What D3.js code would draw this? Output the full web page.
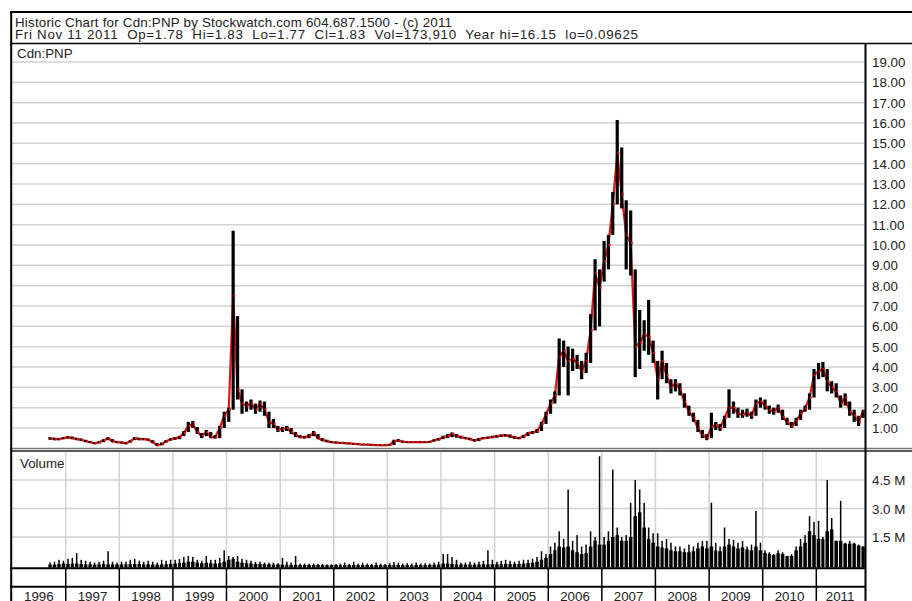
<!DOCTYPE html>
<html><head><meta charset="utf-8">
<script src="https://cdn.jsdelivr.net/npm/d3@7"></script>
<style>
html,body{margin:0;padding:0;background:#fff;}
svg{display:block;font-family:"Liberation Sans",Arial,sans-serif;}
</style></head><body>
<svg id="c" width="912" height="601"></svg>
<script>
// ---------- text ----------
const titleLine1 = "Historic Chart for Cdn:PNP by Stockwatch.com 604.687.1500 - (c) 2011";
const titleLine2 = "Fri Nov 11 2011  Op=1.78  Hi=1.83  Lo=1.77  Cl=1.83  Vol=173,910  Year hi=16.15  lo=0.09625";
const symbolLabel = "Cdn:PNP";
const volumeLabel = "Volume";

// ---------- data (monthly, from Sep 1996 to Nov 2011) ----------
const firstMonth = "1996-09";
const closePrice = [
  .50,.45,.45,.50,
  .55,.50,.45,.42,.35,.30,.25,.30,.40,.48,.35,.30,
  .28,.25,.35,.50,.45,.45,.42,.30,.15,.20,.35,.45,
  .50,.55,.75,1.10,1.20,.80,.60,.80,.55,.55,1.00,1.60,
  1.90,7.50,2.90,2.20,2.10,2.20,1.90,2.20,1.90,1.30,1.20,.90,
  .95,1.00,.80,.65,.55,.55,.60,.75,.50,.40,.35,.30,
  .28,.27,.25,.24,.22,.20,.18,.18,.17,.16,.15,.15,
  .17,.35,.38,.32,.30,.30,.30,.30,.30,.32,.40,.45,
  .55,.60,.70,.60,.55,.50,.45,.38,.45,.50,.52,.55,
  .60,.62,.65,.60,.52,.50,.60,.75,.78,.85,1.20,1.65,
  2.20,2.60,4.50,4.80,4.30,4.40,4.20,3.80,4.30,5.80,8.60,7.90,
  9.20,10.00,12.00,14.50,12.50,10.50,10.10,5.00,5.20,5.60,5.50,4.70,
  3.40,4.30,3.60,3.00,3.20,2.90,2.30,1.80,1.50,1.00,.65,.50,
  1.05,1.15,1.00,1.50,2.00,2.00,1.70,1.65,1.75,1.60,2.20,2.30,
  2.10,1.90,1.80,2.00,1.55,1.30,1.10,1.35,1.70,1.95,2.50,3.60,
  3.80,3.90,3.30,3.00,2.80,2.20,2.50,1.80,1.60,1.30,1.83
];
const highPrice = [
  .55,.52,.50,.55,
  .60,.58,.52,.48,.42,.36,.30,.35,.45,.55,.45,.36,
  .33,.30,.40,.55,.52,.50,.48,.40,.25,.28,.40,.50,
  .55,.60,.85,1.30,1.35,1.05,.75,.90,.80,.65,1.10,1.80,
  2.00,10.70,6.50,2.90,2.30,2.40,2.20,2.35,2.30,1.80,1.45,1.10,
  1.05,1.10,1.00,.80,.65,.60,.70,.85,.70,.50,.42,.36,
  .33,.31,.30,.28,.26,.24,.22,.21,.20,.19,.18,.18,
  .20,.42,.45,.38,.34,.33,.33,.33,.34,.36,.45,.50,
  .62,.70,.78,.70,.62,.56,.52,.45,.50,.55,.58,.62,
  .66,.68,.70,.68,.60,.55,.66,.80,.85,.95,1.30,1.80,
  2.40,2.80,5.40,5.30,5.00,4.90,4.60,4.30,4.70,6.60,9.30,8.80,
  10.20,10.50,12.60,16.15,14.80,12.20,11.70,8.80,6.80,6.30,7.30,5.30,
  4.30,4.80,4.20,3.40,3.40,3.20,2.70,2.10,1.75,1.40,.90,.70,
  1.75,1.30,1.20,1.60,2.90,2.30,2.00,1.90,1.95,1.80,2.40,2.50,
  2.40,2.10,2.00,2.15,1.90,1.50,1.30,1.50,1.90,2.10,2.70,3.90,
  4.20,4.25,3.90,3.30,3.20,2.60,2.70,2.30,1.90,1.60,1.90
];
const lowPrice = [
  .42,.40,.40,.45,
  .48,.45,.40,.36,.30,.26,.20,.24,.30,.40,.30,.26,
  .24,.20,.28,.40,.40,.40,.38,.25,.12,.15,.28,.38,
  .42,.45,.60,.80,1.00,.70,.50,.60,.50,.48,.50,1.00,
  1.30,1.90,2.40,1.70,1.80,1.90,1.70,1.80,1.60,1.00,1.00,.80,
  .80,.85,.70,.55,.50,.48,.50,.60,.45,.35,.30,.26,
  .24,.23,.22,.20,.19,.17,.15,.15,.14,.13,.12,.12,
  .14,.16,.32,.28,.27,.27,.27,.27,.27,.28,.33,.38,
  .45,.50,.55,.52,.48,.45,.40,.33,.35,.45,.47,.50,
  .52,.55,.58,.52,.47,.45,.50,.60,.70,.75,.85,1.20,
  1.70,2.20,2.60,4.00,2.60,3.80,3.90,3.40,3.70,4.20,5.80,6.00,
  8.20,8.80,10.50,12.00,11.80,8.80,8.50,3.50,3.90,4.80,4.60,4.20,
  2.40,3.40,3.20,2.70,2.80,2.60,2.00,1.60,1.30,.80,.50,.40,
  .50,.90,.85,1.00,1.50,1.70,1.50,1.50,1.55,1.45,1.60,2.00,
  1.90,1.70,1.65,1.75,1.40,1.15,1.00,1.10,1.40,1.80,1.90,2.50,
  3.40,3.50,2.80,2.70,2.50,2.00,2.10,1.60,1.30,1.10,1.50
];
// volume in millions of shares: typical daily level and largest daily spike per month
const volumeTypical = [
  .05,.05,.08,.10,
  .08,.10,.10,.08,.06,.06,.05,.06,.07,.06,.06,.05,
  .05,.06,.07,.08,.07,.06,.06,.05,.04,.05,.06,.08,
  .10,.12,.15,.20,.20,.15,.12,.15,.12,.10,.12,.20,
  .30,.35,.20,.15,.12,.10,.08,.08,.07,.06,.05,.05,
  .04,.04,.03,.03,.03,.03,.03,.03,.03,.02,.02,.02,
  .02,.02,.02,.02,.02,.02,.02,.02,.02,.02,.02,.02,
  .03,.03,.03,.02,.02,.02,.02,.03,.03,.03,.04,.05,
  .10,.10,.08,.06,.05,.05,.05,.04,.05,.06,.06,.07,
  .06,.07,.08,.08,.07,.08,.10,.12,.15,.20,.30,.40,
  .60,.80,1.00,.95,1.00,.80,.70,.60,.65,1.00,1.30,1.10,
  1.10,1.30,1.50,1.60,1.30,1.30,1.50,2.60,2.80,2.00,1.40,1.20,
  1.00,.95,.90,.80,.75,.75,.70,.70,.75,.90,1.00,.90,
  1.00,.80,.75,1.00,1.10,1.00,.90,.95,.85,.80,1.00,.80,
  .65,.60,.55,.65,.60,.50,.50,.80,1.00,1.20,1.80,1.60,
  1.40,1.40,1.80,1.90,1.30,1.30,1.15,1.15,1.15,1.05,1.00
];
const volumePeak = [
  .15,.20,.30,.25,
  .35,.40,.65,.30,.25,.20,.15,.20,.25,.75,.20,.15,
  .20,.20,.30,.35,.25,.20,.25,.20,.15,.30,.25,.30,
  .30,.35,.45,.50,.45,.30,.25,.50,.30,.30,.40,.80,
  .50,.45,.50,.35,.30,.25,.20,.20,.15,.15,.15,.12,
  .40,.20,.15,.50,.10,.10,.10,.10,.08,.08,.06,.06,
  .08,.10,.15,.08,.20,.10,.15,.10,.08,.15,.10,.08,
  .12,.18,.15,.10,.12,.10,.15,.10,.12,.10,.15,.20,
  .60,.60,.45,.30,.15,.15,.20,.15,.20,.25,.80,.30,
  .20,.25,.30,.25,.20,.25,.30,.30,.35,.45,.75,.60,
  1.00,1.20,1.80,1.40,4.00,1.30,1.60,1.00,1.10,1.80,1.50,5.75,
  1.50,1.80,5.05,2.00,1.50,1.60,3.30,4.50,4.00,3.30,2.00,1.70,
  1.70,1.30,1.40,1.20,1.00,1.00,.90,1.10,1.00,1.20,1.30,1.30,
  3.30,1.20,1.00,2.00,1.40,1.35,1.20,1.30,1.00,1.10,2.87,1.20,
  .80,.70,.60,.80,.70,.50,.60,1.00,1.40,1.60,2.60,2.30,
  2.35,1.50,4.50,2.50,1.30,3.40,1.20,1.30,1.20,1.10,1.00
];
const priceTicks = [1,2,3,4,5,6,7,8,9,10,11,12,13,14,15,16,17,18,19];
const volumeTicks = [1.5, 3.0, 4.5];
const yearLabels = [1996,1997,1998,1999,2000,2001,2002,2003,2004,2005,2006,2007,2008,2009,2010,2011];

// ---------- scales ----------
const svg = d3.select("#c");
const start = d3.utcParse("%Y-%m")(firstMonth);
const months = closePrice.map((_, i) => d3.utcMonth.offset(start, i));
const midOf = d => new Date((+d + +d3.utcMonth.offset(d, 1)) / 2);

const plotL = 12, plotR = 864;
const x = d3.scaleUtc()
  .domain([new Date(Date.UTC(1996,0,1)), new Date(Date.UTC(2011,10,22))])
  .range([plotL, plotR]);
const yP = d3.scaleLinear().domain([0, 20]).range([448.3, 41.7]);
const yV = d3.scaleLinear().domain([0, 4.5]).range([565.5, 480]);

const gridCol = "#d2d2d2";
const red = "#ee1111";
const font = 13.33;

// ---------- price panel ----------
svg.append("g").selectAll("line").data(priceTicks).join("line")
  .attr("x1", plotL).attr("x2", plotR)
  .attr("y1", d => yP(d)).attr("y2", d => yP(d))
  .attr("stroke", gridCol).attr("stroke-width", 1.5);

svg.append("g").selectAll("text").data(priceTicks).join("text")
  .attr("x", 872).attr("y", d => yP(d) + 5)
  .attr("font-size", font).attr("fill", "#222")
  .text(d => d3.format(".2f")(d));

// close line
svg.append("path")
  .datum(months.map((m, i) => [midOf(m), closePrice[i]]))
  .attr("fill", "none").attr("stroke", red).attr("stroke-width", 2.2)
  .attr("stroke-linejoin", "round")
  .attr("d", d3.line().x(d => x(d[0])).y(d => yP(d[1])));

// high-low bars
svg.append("g").selectAll("rect").data(months).join("rect")
  .attr("x", d => x(midOf(d)) - 1.6).attr("width", 3.2)
  .attr("y", (d, i) => yP(highPrice[i]))
  .attr("height", (d, i) => Math.max(1, yP(lowPrice[i]) - yP(highPrice[i])))
  .attr("fill", "#000");

// close ticks
svg.append("g").selectAll("rect").data(months).join("rect")
  .attr("x", d => x(midOf(d)) + 0.2).attr("width", 2)
  .attr("y", (d, i) => yP(closePrice[i]) - 1).attr("height", 2)
  .attr("fill", red);

svg.append("text").attr("x", 17).attr("y", 58).attr("font-size", font).attr("fill", "#222").text(symbolLabel);

// ---------- volume panel ----------
const yearStarts = yearLabels.slice(1).map(y => new Date(Date.UTC(y,0,1)));
svg.append("g").selectAll("line").data(yearStarts).join("line")
  .attr("x1", d => x(d)).attr("x2", d => x(d))
  .attr("y1", 452).attr("y2", 567)
  .attr("stroke", gridCol).attr("stroke-width", 1.5);
svg.append("g").selectAll("line").data(volumeTicks).join("line")
  .attr("x1", plotL).attr("x2", plotR)
  .attr("y1", d => yV(d)).attr("y2", d => yV(d))
  .attr("stroke", gridCol).attr("stroke-width", 1.5);
svg.append("g").selectAll("text").data(volumeTicks).join("text")
  .attr("x", 872).attr("y", d => yV(d) + 5)
  .attr("font-size", font).attr("fill", "#222")
  .text(d => d3.format(".1f")(d) + " M");

svg.append("g").selectAll("rect").data(months).join("rect")
  .attr("x", d => x(d) + 0.5)
  .attr("width", d => Math.max(1, x(d3.utcMonth.offset(d, 1)) - x(d) - 1))
  .attr("y", (d, i) => yV(volumeTypical[i]))
  .attr("height", (d, i) => yV(0) - yV(volumeTypical[i]) + 2)
  .attr("fill", "#000");
svg.append("g").selectAll("rect").data(months).join("rect")
  .attr("x", d => x(midOf(d)) - 0.75).attr("width", 1.5)
  .attr("y", (d, i) => yV(volumePeak[i]))
  .attr("height", (d, i) => yV(0) - yV(volumePeak[i]) + 2)
  .attr("fill", "#000");

svg.append("text").attr("x", 20).attr("y", 468).attr("font-size", font).attr("fill", "#222").text(volumeLabel);

// ---------- frame and separators ----------
const hline = (y, x1, x2, w, c) => svg.append("line").attr("x1", x1).attr("x2", x2).attr("y1", y).attr("y2", y).attr("stroke", c).attr("stroke-width", w);
hline(12, 10, 912, 2, "#000");
hline(43.5, 10, 912, 1.5, "#000");
hline(448.6, 10, 912, 1.5, "#777");
hline(451, 10, 912, 1.5, "#222");
hline(568.3, 10, 866, 2, "#000");
hline(586.7, 10, 866, 2, "#000");
svg.append("line").attr("x1", 11.2).attr("x2", 11.2).attr("y1", 11).attr("y2", 601).attr("stroke", "#000").attr("stroke-width", 2);
svg.append("line").attr("x1", 865.5).attr("x2", 865.5).attr("y1", 43).attr("y2", 601).attr("stroke", "#000").attr("stroke-width", 2);

// year ticks and labels
svg.append("g").selectAll("line").data(yearStarts).join("line")
  .attr("x1", d => x(d)).attr("x2", d => x(d))
  .attr("y1", 568).attr("y2", 601)
  .attr("stroke", "#000").attr("stroke-width", 1.5);
svg.append("g").selectAll("text").data(yearLabels).join("text")
  .attr("x", y => {
    const a = x(new Date(Date.UTC(y,0,1)));
    const b = Math.min(x(new Date(Date.UTC(y + 1,0,1))), plotR);
    return (Math.max(a, plotL) + b) / 2;
  })
  .attr("y", 600.5).attr("text-anchor", "middle")
  .attr("font-size", font).attr("fill", "#222")
  .text(d => d);

// title
svg.append("text").attr("x", 15).attr("y", 26.5).attr("font-size", font).attr("fill", "#222")
  .attr("textLength", 437).attr("lengthAdjust", "spacing").style("white-space", "pre").text(titleLine1);
svg.append("text").attr("x", 15).attr("y", 38.8).attr("font-size", font).attr("fill", "#222")
  .attr("textLength", 623).attr("lengthAdjust", "spacing").style("white-space", "pre").text(titleLine2);
</script>
</body></html>
